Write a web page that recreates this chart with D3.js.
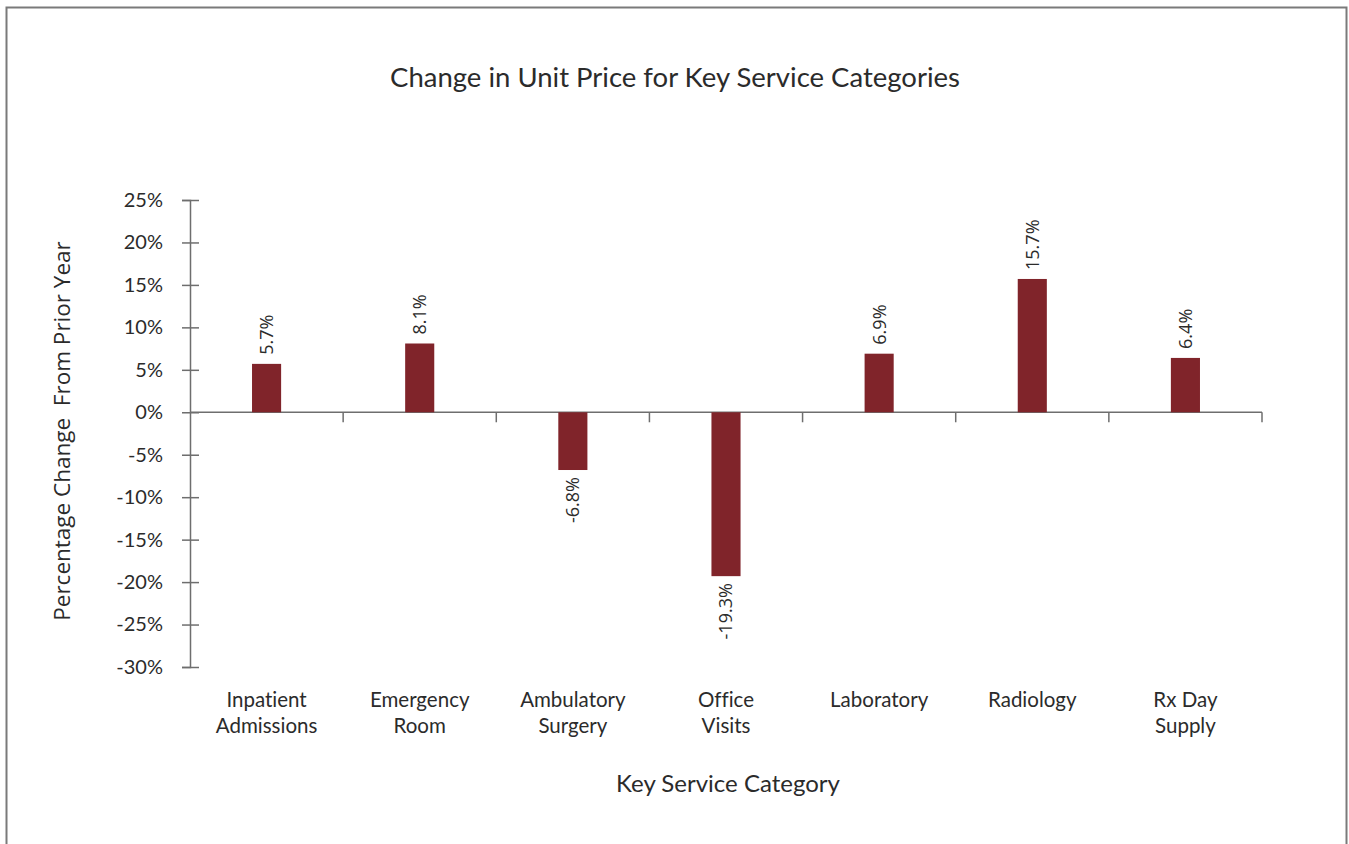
<!DOCTYPE html>
<html>
<head>
<meta charset="utf-8">
<script src="https://cdn.jsdelivr.net/npm/d3@7"></script>
<style>
  body { margin: 0; background: #fff; }
  text { font-family: Lato, "Open Sans", sans-serif; fill: #2b2b2b; font-variant-ligatures: none; }
</style>
</head>
<body>
<svg class="chart" width="1349" height="844"></svg>
<script>
// data
const categories = ['Inpatient Admissions', 'Emergency Room', 'Ambulatory Surgery', 'Office Visits', 'Laboratory', 'Radiology', 'Rx Day Supply'];
const categoryLines = [['Inpatient', 'Admissions'], ['Emergency', 'Room'], ['Ambulatory', 'Surgery'], ['Office', 'Visits'], ['Laboratory'], ['Radiology'], ['Rx Day', 'Supply']];
const changes = [5.7, 8.1, -6.8, -19.3, 6.9, 15.7, 6.4];
const yTicks = [25, 20, 15, 10, 5, 0, -5, -10, -15, -20, -25, -30];

const svg = d3.select('.chart');

const barColor = '#80242a';
const axisColor = '#6e6e6e';

//frame round the chart (bottom edge runs off the page)
svg.append('rect')
    .attr('x', 6.5)
    .attr('y', 7.5)
    .attr('width', 1340)
    .attr('height', 900)
    .attr('fill', 'none')
    .attr('stroke', '#7a7a7a')
    .attr('stroke-width', 2);

const xScale = d3.scaleBand()
    .domain(categories)
    .range([190, 1262]);

const yScale = d3.scaleLinear()
    .domain([-30, 25])
    .range([667, 200]);

const barW = xScale.bandwidth() * 0.19;

//title
svg.append('text')
    .attr('x', 675)
    .attr('y', 87)
    .attr('text-anchor', 'middle')
    .style('font-size', '27.5px')
    .text('Change in Unit Price for Key Service Categories');

//y axis
const yAxis = svg.append('g')
    .attr('transform', 'translate(190,0)')
    .call(d3.axisLeft(yScale).tickValues(yTicks).tickSize(8).tickPadding(19).tickFormat(d => d + '%'));
yAxis.select('.domain').attr('stroke', axisColor).attr('stroke-width', 1.5);
yAxis.selectAll('.tick line').attr('stroke', axisColor).attr('stroke-width', 1.5).attr('x1', 9);
yAxis.selectAll('.tick text')
    .style('font-size', '20px')
    .style('font-family', 'Lato, sans-serif')
    .attr('fill', '#2b2b2b');

//zero line with ticks between categories
const zeroY = yScale(0);
svg.append('line')
    .attr('x1', xScale.range()[0])
    .attr('x2', xScale.range()[1])
    .attr('y1', zeroY)
    .attr('y2', zeroY)
    .attr('stroke', axisColor)
    .attr('stroke-width', 1.5);
svg.append('g')
    .selectAll('line')
    .data(categories)
    .join('line')
    .attr('x1', d => xScale(d) + xScale.bandwidth())
    .attr('x2', d => xScale(d) + xScale.bandwidth())
    .attr('y1', zeroY)
    .attr('y2', zeroY + 10)
    .attr('stroke', axisColor)
    .attr('stroke-width', 1.5);

//bars
svg.append('g')
    .selectAll('rect')
    .data(changes)
    .join('rect')
    .attr('x', (d, i) => xScale(categories[i]) + (xScale.bandwidth() - barW) / 2)
    .attr('y', d => yScale(Math.max(0, d)))
    .attr('width', barW)
    .attr('height', d => Math.abs(yScale(d) - zeroY))
    .attr('fill', barColor);

//value labels, turned on their side
svg.append('g')
    .selectAll('text')
    .data(changes)
    .join('text')
    .attr('transform', (d, i) => {
        const cx = xScale(categories[i]) + xScale.bandwidth() / 2;
        const cy = d >= 0 ? yScale(d) - 9 : yScale(d) + 7;
        return `translate(${cx},${cy}) rotate(-90)`;
    })
    .attr('dy', '0.36em')
    .attr('text-anchor', d => d >= 0 ? 'start' : 'end')
    .style('font-size', '18px')
    .style('font-family', '"Open Sans", sans-serif')
    .text(d => d.toFixed(1) + '%');

//category names under the chart
const catLabels = svg.append('g')
    .selectAll('text')
    .data(categoryLines)
    .join('text')
    .attr('x', (d, i) => xScale(categories[i]) + xScale.bandwidth() / 2)
    .attr('y', 707)
    .attr('text-anchor', 'middle')
    .style('font-size', '20.5px');
catLabels.selectAll('tspan')
    .data(d => d)
    .join('tspan')
    .attr('x', function(){ return this.parentNode.getAttribute('x'); })
    .attr('dy', (d, i) => i ? 26 : 0)
    .text(d => d);

//axis titles
svg.append('text')
    .attr('x', 728)
    .attr('y', 792)
    .attr('text-anchor', 'middle')
    .style('font-size', '24px')
    .text('Key Service Category');

svg.append('text')
    .attr('transform', 'translate(70,431) rotate(-90)')
    .attr('text-anchor', 'middle')
    .style('font-size', '22.5px')
    .style('font-family', '"Open Sans", sans-serif')
    .style('white-space', 'pre')
    .text('Percentage Change  From Prior Year');
</script>
</body>
</html>
